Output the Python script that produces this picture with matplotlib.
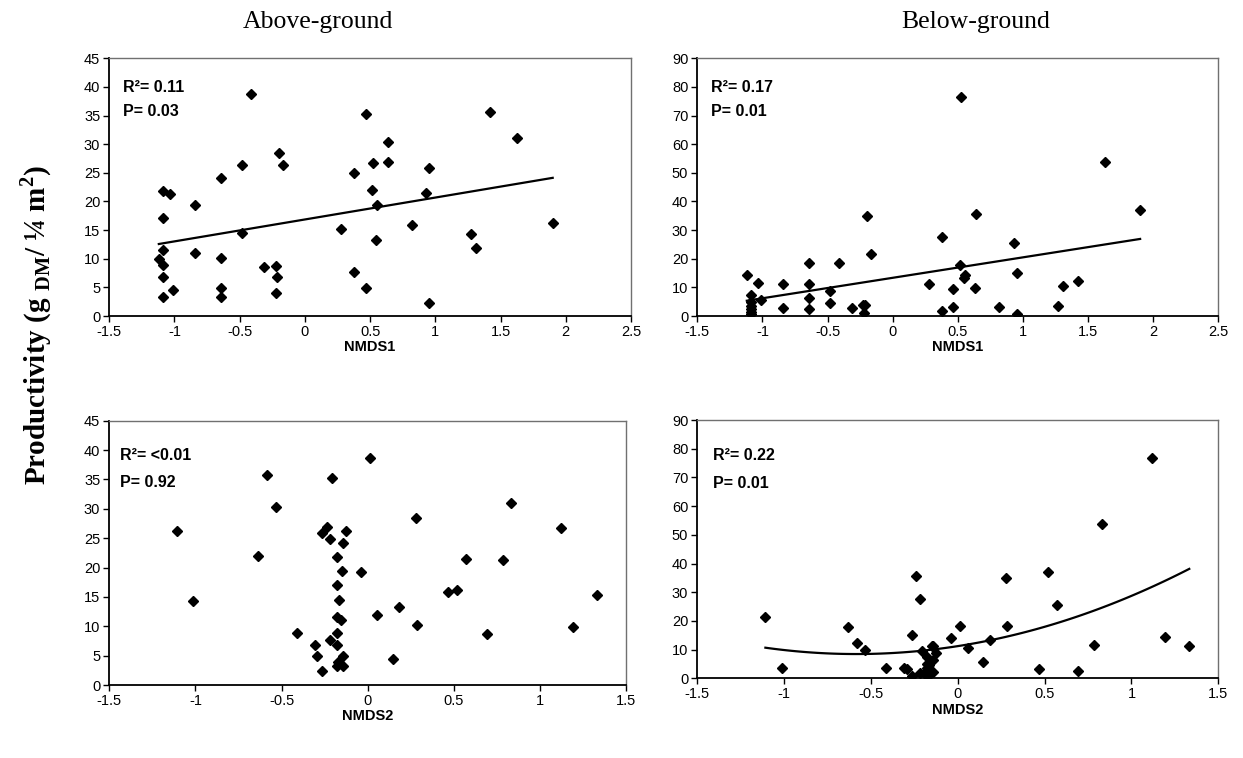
import numpy as np
import matplotlib
matplotlib.use('Agg')
import matplotlib.pyplot as plt
from matplotlib.ticker import MultipleLocator, FuncFormatter

plt.rcParams['font.family'] = 'Liberation Sans'
plt.rcParams['axes.unicode_minus'] = False
plt.rcParams['mathtext.fontset'] = 'custom'
plt.rcParams['mathtext.rm'] = 'Liberation Serif:bold'
plt.rcParams['mathtext.bf'] = 'Liberation Serif:bold'

# one entry per plot (sample): ordination scores and productivity (g DM / 0.25 m2)
nmds1 = [-1.12, -1.09, -1.09, -1.09, -1.09, -1.09, -1.09, -1.035, -1.01, -0.845,
         -0.845, -0.64, -0.64, -0.64, -0.64, -0.485, -0.485, -0.415, -0.315, -0.225,
         -0.215, -0.22, -0.195, -0.17, 0.28, 0.375, 0.375, 0.465, 0.465, 0.515,
         0.525, 0.545, 0.555, 0.635, 0.64, 0.82, 0.93, 0.955, 0.955, 1.27,
         1.31, 1.42, 1.63, 1.90]
nmds2 = [1.193, -0.178, -0.178, -0.178, -0.178, -0.178, -0.178, 0.787, 0.145, -0.151,
         -0.153, -0.143, 0.284, -0.145, -0.145, -0.128, -0.165, 0.013, 0.69, -0.412,
         -0.308, -0.17, 0.278, -1.108, 1.333, -0.219, -0.219, -0.207, -0.292, -0.635,
         1.12, 0.184, -0.037, -0.532, -0.238, 0.466, 0.571, -0.265, -0.265, -1.012,
         0.056, -0.583, 0.83, 0.52]
above = [9.9, 21.8, 17.1, 11.5, 8.9, 6.8, 3.3, 21.3, 4.5, 19.4,
         11.0, 24.1, 10.2, 4.9, 3.3, 26.3, 14.5, 38.7, 8.6, 8.8,
         6.75, 4.0, 28.4, 26.3, 15.25, 24.9, 7.6, 35.2, 4.95, 22.0,
         26.8, 13.2, 19.3, 30.3, 26.9, 15.9, 21.4, 25.8, 2.3, 14.3,
         11.9, 35.7, 31.0, 16.2]
below = [14.4, 7.4, 5.0, 3.6, 2.6, 0.7, 1.5, 11.6, 5.7, 11.2,
         2.7, 11.2, 18.4, 6.4, 2.3, 8.8, 4.5, 18.4, 2.7, 3.7,
         3.7, 0.9, 35.0, 21.5, 11.2, 27.7, 1.9, 9.4, 3.3, 17.8,
         76.6, 13.2, 14.2, 9.9, 35.6, 3.3, 25.4, 15.0, 0.7, 3.6,
         10.4, 12.2, 53.9, 37.0]

r2_text = ['R²= 0.11', 'R²= 0.17', 'R²= <0.01', 'R²= 0.22']
p_text = ['P= 0.03', 'P= 0.01', 'P= 0.92', 'P= 0.01']
fit_degree = [1, 1, None, 2]

fig = plt.figure(figsize=(12.43, 7.58), dpi=100)

rects = [[0.0879, 0.5831, 0.4197, 0.3400],
         [0.5610, 0.5831, 0.4191, 0.3400],
         [0.0879, 0.0963, 0.4158, 0.3487],
         [0.5610, 0.1051, 0.4191, 0.3408]]
xs = [nmds1, nmds1, nmds2, nmds2]
ys = [above, below, above, below]
xlims = [(-1.5, 2.5), (-1.5, 2.5), (-1.5, 1.5), (-1.5, 1.5)]
ylims = [(0, 45), (0, 90), (0, 45), (0, 90)]
ysteps = [5, 10, 5, 10]
xlabels = ['NMDS1', 'NMDS1', 'NMDS2', 'NMDS2']
txt_pos = [(0.027, 0.916, 0.823), (0.026, 0.916, 0.823),
           (0.021, 0.897, 0.795), (0.031, 0.892, 0.782)]

fmt = FuncFormatter(lambda v, pos: '%g' % v)

for i in range(4):
    ax = fig.add_axes(rects[i])
    x = np.array(xs[i])
    y = np.array(ys[i])
    ax.plot(x, y, linestyle='none', marker='D', ms=5.6, color='black', zorder=3)

    if fit_degree[i] is not None:
        coef = np.polyfit(x, y, fit_degree[i])
        xx = np.linspace(x.min(), x.max(), 100)
        ax.plot(xx, np.polyval(coef, xx), color='black', lw=1.6, zorder=2)

    ax.set_xlim(*xlims[i])
    ax.set_ylim(*ylims[i])
    ax.xaxis.set_major_locator(MultipleLocator(0.5))
    ax.yaxis.set_major_locator(MultipleLocator(ysteps[i]))
    ax.xaxis.set_major_formatter(fmt)
    ax.yaxis.set_major_formatter(fmt)
    ax.tick_params(direction='out', length=4.5, width=1, labelsize=10.5, pad=2, color='black')

    for side in ['left', 'bottom']:
        ax.spines[side].set_color('black')
        ax.spines[side].set_linewidth(1.3)
    for side in ['top', 'right']:
        ax.spines[side].set_color('#707070')
        ax.spines[side].set_linewidth(1.0)

    ax.set_xlabel(xlabels[i], fontsize=10.5, fontweight='bold', labelpad=1)

    tx, ty1, ty2 = txt_pos[i]
    ax.text(tx, ty1, r2_text[i], transform=ax.transAxes, fontsize=11.5,
            fontweight='bold', va='top', ha='left')
    ax.text(tx, ty2, p_text[i], transform=ax.transAxes, fontsize=11.5,
            fontweight='bold', va='top', ha='left')

fig.text(317.5 / 1243, 1 - 22 / 758, 'Above-ground', family='Liberation Serif',
         fontsize=18.5, ha='center', va='center')
fig.text(976 / 1243, 1 - 22 / 758, 'Below-ground', family='Liberation Serif',
         fontsize=18.5, ha='center', va='center')
fig.text(36 / 1243, 1 - 325.5 / 758,
         r'Productivity (g $_{\mathbf{DM}}$/ ¼ m$^{\mathbf{2}}$)',
         family='Liberation Serif', fontweight='bold', fontsize=21,
         rotation=90, ha='center', va='center')

fig.savefig('out.png', dpi=100)
